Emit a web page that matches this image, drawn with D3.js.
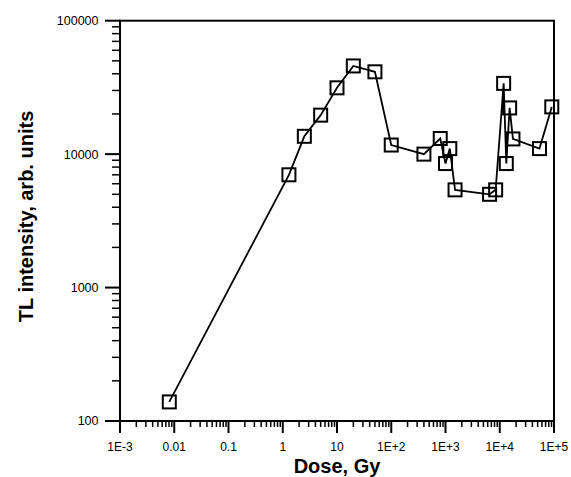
<!DOCTYPE html>
<html>
<head>
<meta charset="utf-8">
<script src="https://cdn.jsdelivr.net/npm/d3@7"></script>
<style>
  body { margin: 0; background: #fff; }
  text { font-family: Arial, "Liberation Sans", sans-serif; }
</style>
</head>
<body>
<div id="chart"></div>
<script>
// dose in Gy and TL intensity
var doses = [0.0081, 1.3, 2.5, 5, 10, 20, 50, 100, 400, 800, 1000, 1200, 1500, 6500, 8400, 11800, 13200, 15200, 17500, 54000, 91000];
var intensities = [139, 7000, 13600, 19600, 31400, 45800, 41400, 11700, 10000, 13100, 8500, 11000, 5400, 5000, 5400, 33900, 8500, 22200, 13000, 11000, 22600];
var xTickLabels = ["1E-3", "0.01", "0.1", "1", "10", "1E+2", "1E+3", "1E+4", "1E+5"];
var yTickLabels = ["100", "1000", "10000", "100000"];

(function() {
    var width = 571,
        height = 477;

    var margin = {left: 120, right: 17, top: 20.7, bottom: 56};

    var svg = d3.select("#chart")
        .append("svg")
        .attr("width", width)
        .attr("height", height)

    var x = d3.scaleLog().domain([1e-3, 1e5]).range([margin.left, width - margin.right])
    var y = d3.scaleLog().domain([100, 100000]).range([height - margin.bottom, margin.top])

    var points = doses.map(function(d, i) { return {dose: d, tl: intensities[i]} })

    // minor ticks 2..9 in every decade
    var xMinor = []
    for (var e = -3; e < 5; e++) {
      for (var m = 2; m <= 9; m++) { xMinor.push(m * Math.pow(10, e)) }
    }
    var yMinor = []
    for (var e2 = 2; e2 < 5; e2++) {
      for (var m2 = 2; m2 <= 9; m2++) { yMinor.push(m2 * Math.pow(10, e2)) }
    }
    var xMajor = xTickLabels.map(function(d, i) { return Math.pow(10, i - 3) })
    var yMajor = yTickLabels.map(function(d) { return +d })

    var x0 = x.range()[0], x1 = x.range()[1]
    var y0 = y.range()[0], y1 = y.range()[1]

    // x axis ticks
    svg.selectAll(".x-minor")
      .data(xMinor)
      .enter().append("line")
      .attr("x1", function(d) { return x(d) })
      .attr("x2", function(d) { return x(d) })
      .attr("y1", y0)
      .attr("y2", y0 + 6)
      .attr("stroke", "black")
      .attr("stroke-width", 1.5)

    svg.selectAll(".x-major")
      .data(xMajor)
      .enter().append("line")
      .attr("x1", function(d) { return x(d) })
      .attr("x2", function(d) { return x(d) })
      .attr("y1", y0)
      .attr("y2", y0 + 12)
      .attr("stroke", "black")
      .attr("stroke-width", 2)

    svg.selectAll(".x-label")
      .data(xMajor)
      .enter().append("text")
      .attr("x", function(d) { return x(d) })
      .attr("y", 450.5)
      .attr("text-anchor", "middle")
      .attr("font-size", "12px")
      .text(function(d, i) { return xTickLabels[i] })

    // y axis ticks
    svg.selectAll(".y-minor")
      .data(yMinor)
      .enter().append("line")
      .attr("x1", x0 - 8)
      .attr("x2", x0)
      .attr("y1", function(d) { return y(d) })
      .attr("y2", function(d) { return y(d) })
      .attr("stroke", "black")
      .attr("stroke-width", 1.5)

    svg.selectAll(".y-major")
      .data(yMajor)
      .enter().append("line")
      .attr("x1", x0 - 15)
      .attr("x2", x0)
      .attr("y1", function(d) { return y(d) })
      .attr("y2", function(d) { return y(d) })
      .attr("stroke", "black")
      .attr("stroke-width", 2)

    svg.selectAll(".y-label")
      .data(yMajor)
      .enter().append("text")
      .attr("x", 98.5)
      .attr("y", function(d) { return y(d) })
      .attr("dy", "0.35em")
      .attr("text-anchor", "end")
      .attr("font-size", "12.5px")
      .text(function(d, i) { return yTickLabels[i] })

    // frame
    svg.append("rect")
      .attr("x", x0)
      .attr("y", y1)
      .attr("width", x1 - x0)
      .attr("height", y0 - y1)
      .attr("fill", "none")
      .attr("stroke", "black")
      .attr("stroke-width", 2)

    var line = d3.line()
      .x(function(d) { return x(d.dose) })
      .y(function(d) { return y(d.tl) })

    svg.append("path")
      .datum(points)
      .attr("d", line)
      .attr("fill", "none")
      .attr("stroke", "black")
      .attr("stroke-width", 1.8)

    var size = 13
    svg.selectAll(".marker")
      .data(points)
      .enter().append("rect")
      .attr("x", function(d) { return x(d.dose) - size / 2 })
      .attr("y", function(d) { return y(d.tl) - size / 2 })
      .attr("width", size)
      .attr("height", size)
      .attr("fill", "none")
      .attr("stroke", "black")
      .attr("stroke-width", 2)

    // axis titles
    svg.append("text")
      .attr("x", (x0 + x1) / 2)
      .attr("y", 473)
      .attr("text-anchor", "middle")
      .attr("font-size", "20px")
      .attr("font-weight", "bold")
      .text("Dose, Gy")

    svg.append("text")
      .attr("transform", "translate(33," + 216.5 + ") rotate(-90)")
      .attr("text-anchor", "middle")
      .attr("font-size", "20px")
      .attr("font-weight", "bold")
      .text("TL intensity, arb. units")
})();
</script>
</body>
</html>
